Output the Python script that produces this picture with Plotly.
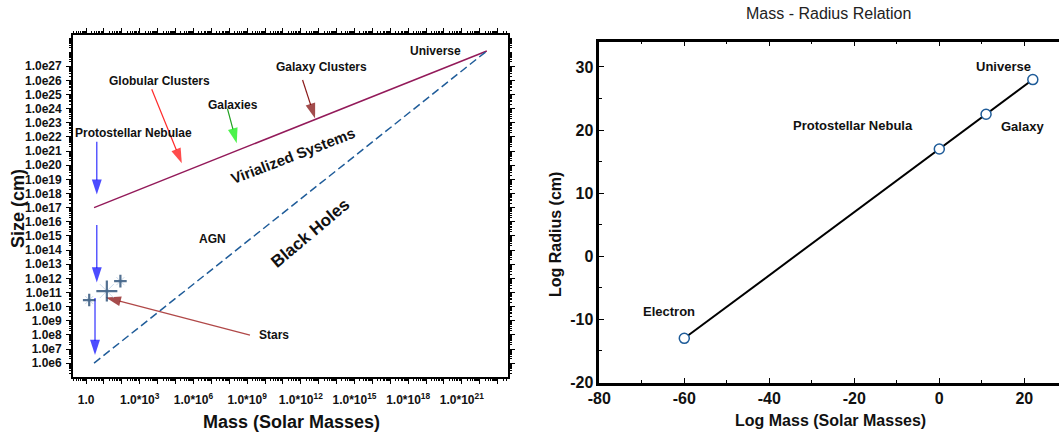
import plotly.graph_objects as go

W, H = 1059, 433
FONT = "Liberation Sans, Arial, Helvetica, sans-serif"

# ---------------- Left panel data (solar masses, cm) ----------------
vir_mass = [2.8, 2.5e22]
vir_size = [1.0e17, 1.2e28]
bh_mass = [2.8, 2.5e22]
bh_size = [1.0e6, 1.2e28]
star_mass = [1.5, 14.5, 83.0]
star_size = [2.9e10, 1.26e11, 6.3e11]
star_marker_size = [9, 15, 9]

x_tick_exp = list(range(0, 24))
x_tick_text = ["1.0" if k == 0 else (f"1.0*10<sup>{k}</sup>" if k % 3 == 0 else "")
               for k in x_tick_exp]
y_tick_exp = list(range(6, 28))
y_tick_text = [f"1.0e{k}" for k in y_tick_exp]

# arrows (log10 mass, log10 size): start -> tip
arrow_names = ["Protostellar Nebulae", "Protostellar Nebulae 2", "Protostellar Nebulae 3",
               "Globular Clusters", "Galaxies", "Galaxy Clusters", "Stars"]
arrow_x0 = [0.6, 0.6, 0.5, 3.67, 7.9, 12.1, 9.16]
arrow_y0 = [21.66, 15.77, 10.6, 25.37, 24.0, 26.03, 7.98]
arrow_x1 = [0.6, 0.6, 0.5, 5.35, 8.42, 12.8, 1.1]
arrow_y1 = [17.92, 11.7, 6.57, 20.13, 21.55, 23.3, 10.65]

# text labels (log10 positions)
label_text = ["Universe", "Galaxy Clusters", "Globular Clusters", "Galaxies",
              "Protostellar Nebulae", "AGN", "Stars", "Virialized Systems", "Black Holes"]
label_x = [19.55, 13.13, 4.13, 8.23, 2.64, 7.09, 10.5, 11.56, 12.51]
label_y = [28.08, 26.97, 25.96, 24.26, 22.3, 14.78, 7.98, 20.72, 15.2]

# ---------------- Right panel data ----------------
obj_name = ["Electron", "Protostellar Nebula", "Galaxy", "Universe"]
log_mass = [-60, 0, 11, 22]
log_radius = [-13, 17, 22.5, 28]
obj_label_x = [-63.5, -20.2, 19.5, 15.1]
obj_label_y = [-8.8, 20.8, 20.6, 30.0]
r_x_ticks = [-80, -60, -40, -20, 0, 20]
r_y_ticks = [-20, -10, 0, 10, 20, 30]

# ---------------- styles ----------------
arrow_line_color = ["#3030FF", "#3030FF", "#3030FF", "#FF2A2A", "#1FA01F", "#8B1A1A", "#B04848"]
arrow_head_color = ["#0000FF", "#0000FF", "#0000FF", "#FF0000", "#00EE00", "#7A0000", "#800000"]
label_angle = [0, 0, 0, 0, 0, 0, 0, -21, -40]
label_size = [12, 12, 12, 12, 12, 12, 12, 15, 17]

minor_log_x = [m * 10.0 ** k for k in range(-1, 25) for m in range(2, 10)]
minor_log_y = [m * 10.0 ** k for k in range(4, 30) for m in range(2, 10)]

fig = go.Figure()

fig.add_trace(go.Scatter(x=vir_mass, y=vir_size, mode="lines",
                         line=dict(color="#931A5A", width=1.5), xaxis="x", yaxis="y"))
fig.add_trace(go.Scatter(x=bh_mass, y=bh_size, mode="lines",
                         line=dict(color="#1F5C99", width=1.5, dash="8px,4px"),
                         xaxis="x", yaxis="y"))

for i in range(len(arrow_names)):
    fig.add_trace(go.Scatter(
        x=[10.0 ** arrow_x0[i], 10.0 ** arrow_x1[i]],
        y=[10.0 ** arrow_y0[i], 10.0 ** arrow_y1[i]],
        mode="lines+markers", name=arrow_names[i],
        line=dict(color=arrow_line_color[i], width=1.2),
        marker=dict(symbol="arrow", size=[0, 16], angleref="previous",
                    color=arrow_head_color[i], line=dict(width=0)),
        xaxis="x", yaxis="y"))

fig.add_trace(go.Scatter(x=star_mass, y=star_size, mode="markers",
                         marker=dict(symbol="x-thin", size=[s - 1 for s in star_marker_size],
                                     line=dict(color="#B8CDE4", width=1)),
                         xaxis="x", yaxis="y"))
fig.add_trace(go.Scatter(x=star_mass, y=star_size, mode="markers",
                         marker=dict(symbol="cross-thin", size=star_marker_size,
                                     line=dict(color="#0A3563", width=2.2)),
                         xaxis="x", yaxis="y"))

fig.add_trace(go.Scatter(x=log_mass, y=log_radius, mode="lines+markers",
                         line=dict(color="black", width=2),
                         marker=dict(symbol="circle", size=10, color="white",
                                     line=dict(color="#1F5C99", width=1.5)),
                         xaxis="x2", yaxis="y2"))

annotations = []
for t, x, y, a, s in zip(label_text, label_x, label_y, label_angle, label_size):
    annotations.append(dict(text=t, x=x, y=y, xref="x", yref="y", showarrow=False,
                            xanchor="center", yanchor="middle",
                            textangle=a, font=dict(family=FONT, size=s, color="#111",
                                                   weight="bold")))
for t, x, y in zip(obj_name, obj_label_x, obj_label_y):
    annotations.append(dict(text=t, x=x, y=y, xref="x2", yref="y2", showarrow=False,
                            xanchor="center", yanchor="middle",
                            font=dict(family=FONT, size=13, color="#111", weight="bold")))


def px(x):
    return x / W


def py(y):
    return 1 - y / H


def paper_label(text, x, y, size, angle=0, weight="bold", color="#111"):
    return dict(text=text, x=px(x), y=py(y), xref="paper", yref="paper", showarrow=False,
                xanchor="center", yanchor="middle", textangle=angle,
                font=dict(family=FONT, size=size, color=color, weight=weight))


annotations += [
    paper_label("Size (cm)", 18, 209, 18, angle=-90),
    paper_label("Mass (Solar Masses)", 291, 422, 18),
    paper_label("Log Radius (cm)", 555, 235, 16, angle=-90),
    paper_label("Log Mass (Solar Masses)", 830, 420, 16),
    paper_label("Mass - Radius Relation", 828, 14, 16, weight="normal", color="#222"),
]

tick_font_l = dict(family=FONT, size=12, color="#111", weight="bold")
tick_font_r = dict(family=FONT, size=16, color="#111", weight="bold")

fig.update_layout(
    template="none",
    width=W, height=H, autosize=False,
    margin=dict(l=0, r=0, t=0, b=0, pad=0),
    paper_bgcolor="white", plot_bgcolor="white",
    showlegend=False,
    annotations=annotations,
    xaxis=dict(type="log", domain=[px(73), px(508)], range=[-0.73, 23.58], anchor="y",
               automargin=False,
               tickmode="array", tickvals=[10.0 ** k for k in x_tick_exp], ticktext=x_tick_text,
               ticks="outside", ticklen=5, tickwidth=1, tickcolor="black",
               minor=dict(ticks="outside", ticklen=2.5, tickmode="array",
                          tickvals=minor_log_x, tickcolor="black", tickwidth=1),
               showline=True, linecolor="black", linewidth=1.8, mirror="ticks",
               showgrid=False, zeroline=False, tickfont=tick_font_l, ticklabelstandoff=6),
    yaxis=dict(type="log", domain=[py(377), py(35)], range=[5.02, 29.21], anchor="x",
               automargin=False,
               tickmode="array", tickvals=[10.0 ** k for k in y_tick_exp], ticktext=y_tick_text,
               ticks="outside", ticklen=5, tickwidth=1, tickcolor="black",
               minor=dict(ticks="outside", ticklen=2.5, tickmode="array",
                          tickvals=minor_log_y, tickcolor="black", tickwidth=1),
               showline=True, linecolor="black", linewidth=1.8, mirror="ticks",
               showgrid=False, zeroline=False, tickfont=tick_font_l, ticklabelstandoff=2),
    xaxis2=dict(domain=[px(599.3), 1.0], range=[-80, 28.16], anchor="y2",
                automargin=False,
                tickmode="array", tickvals=r_x_ticks, ticktext=[str(v) for v in r_x_ticks],
                ticks="inside", ticklen=5, tickwidth=1, tickcolor="black",
                minor=dict(ticks="inside", ticklen=2.5, dtick=10, tick0=-80, tickcolor="black"),
                showline=True, linecolor="black", linewidth=2.5, mirror="ticks",
                showgrid=False, zeroline=False, tickfont=tick_font_r),
    yaxis2=dict(domain=[py(382.5), py(41.7)], range=[-20, 34], anchor="x2",
                automargin=False,
                tickmode="array", tickvals=r_y_ticks, ticktext=[str(v) for v in r_y_ticks],
                ticks="inside", ticklen=5, tickwidth=1, tickcolor="black",
                minor=dict(ticks="inside", ticklen=2.5, dtick=5, tick0=-20, tickcolor="black"),
                showline=True, linecolor="black", linewidth=2.5, mirror=False,
                showgrid=False, zeroline=False, tickfont=tick_font_r),
)

fig.write_html("out.html", config={"displayModeBar": False},
               post_script="document.body.style.margin='0';document.body.style.padding='0';")
